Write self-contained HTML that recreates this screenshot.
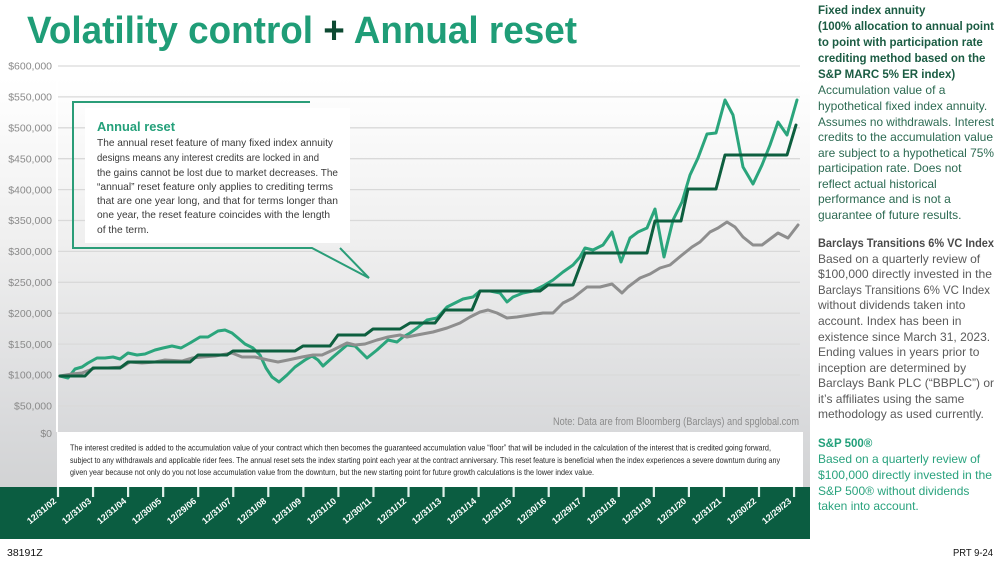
<!DOCTYPE html>
<html>
<head>
<meta charset="utf-8">
<style>
  html,body{margin:0;padding:0;background:#fff;}
  svg{display:block;}
  text{font-family:"Liberation Sans",sans-serif;}
</style>
</head>
<body>
<svg width="1000" height="563" viewBox="0 0 1000 563" xmlns="http://www.w3.org/2000/svg">
  <defs>
    <linearGradient id="bg" x1="0" y1="0" x2="0" y2="487" gradientUnits="userSpaceOnUse">
      <stop offset="0" stop-color="#ffffff"/>
      <stop offset="0.16" stop-color="#ffffff"/>
      <stop offset="0.5" stop-color="#efefef"/>
      <stop offset="0.88" stop-color="#d8d9db"/>
      <stop offset="1" stop-color="#d2d3d4"/>
    </linearGradient>
  </defs>

  <!-- backgrounds -->
  <rect x="0" y="0" width="1000" height="563" fill="#ffffff"/>
  <rect x="0" y="0" width="810" height="487" fill="url(#bg)"/>

  <!-- title -->
  <text x="27" y="43" font-size="38" font-weight="bold" fill="#1f9d77" textLength="550" lengthAdjust="spacingAndGlyphs">Volatility control <tspan fill="#0d4a32">+</tspan> Annual reset</text>

  <!-- gridlines -->
  <g stroke="#d9d9d9" stroke-width="1.3">
    <line x1="58" y1="66" x2="800" y2="66"/>
    <line x1="58" y1="96.9" x2="800" y2="96.9"/>
    <line x1="58" y1="127.8" x2="800" y2="127.8"/>
    <line x1="58" y1="158.7" x2="800" y2="158.7"/>
    <line x1="58" y1="189.6" x2="800" y2="189.6"/>
    <line x1="58" y1="220.5" x2="800" y2="220.5"/>
    <line x1="58" y1="251.4" x2="800" y2="251.4"/>
    <line x1="58" y1="282.3" x2="800" y2="282.3"/>
    <line x1="58" y1="313.2" x2="800" y2="313.2"/>
    <line x1="58" y1="344.1" x2="800" y2="344.1"/>
    <line x1="58" y1="375" x2="800" y2="375"/>
    <line x1="58" y1="405.9" x2="800" y2="405.9"/>
  </g>
  <line x1="57" y1="60" x2="57" y2="432" stroke="#ffffff" stroke-width="2"/>

  <!-- y labels -->
  <g font-size="10.5" fill="#8a8a8a" text-anchor="end">
    <text x="52" y="69.7">$600,000</text>
    <text x="52" y="100.6">$550,000</text>
    <text x="52" y="131.5">$500,000</text>
    <text x="52" y="162.4">$450,000</text>
    <text x="52" y="193.3">$400,000</text>
    <text x="52" y="224.2">$350,000</text>
    <text x="52" y="255.1">$300,000</text>
    <text x="52" y="286">$250,000</text>
    <text x="52" y="316.9">$200,000</text>
    <text x="52" y="347.8">$150,000</text>
    <text x="52" y="378.7">$100,000</text>
    <text x="52" y="409.6">$50,000</text>
    <text x="52" y="437">$0</text>
  </g>

  <!-- callout -->
  <rect x="85" y="108" width="265" height="135" fill="#ffffff"/>
  <g stroke="#2a9d78" stroke-width="2" fill="none" stroke-linejoin="miter">
    <polyline points="310,102 73,102 73,248 312,248 369,278 340,248"/>
  </g>
  <text x="97" y="131" font-size="13" font-weight="bold" fill="#24a07a" textLength="78" lengthAdjust="spacingAndGlyphs">Annual reset</text>
  <g font-size="10.5" fill="#3a3a3a">
    <text x="97" y="146" textLength="236" lengthAdjust="spacingAndGlyphs">The annual reset feature of many fixed index annuity</text>
    <text x="97" y="161" textLength="222" lengthAdjust="spacingAndGlyphs">designs means any interest credits are locked in and</text>
    <text x="97" y="176" textLength="241" lengthAdjust="spacingAndGlyphs">the gains cannot be lost due to market decreases. The</text>
    <text x="97" y="190" textLength="236" lengthAdjust="spacingAndGlyphs">“annual” reset feature only applies to crediting terms</text>
    <text x="97" y="204" textLength="241" lengthAdjust="spacingAndGlyphs">that are one year long, and that for terms longer than</text>
    <text x="97" y="218" textLength="233" lengthAdjust="spacingAndGlyphs">one year, the reset feature coincides with the length</text>
    <text x="97" y="233" textLength="52" lengthAdjust="spacingAndGlyphs">of the term.</text>
  </g>

  <!-- series -->
  <g fill="none" stroke-width="3" stroke-linejoin="round" stroke-linecap="round">
    <polyline stroke="#2ba57c" points="60,376 68,378 75,369 82,367 88,363 97,358 105,358 113,357 120,359 128,353 137,355 145,354 155,350 163,348 172,346 181,348 190,343 200,337 208,337 218,331 225,330 232,333 238,338 245,344 253,348 260,355 266,368 272,377 279,382 287,375 295,367 305,360 312,356 318,360 323,366 333,357 347,345 355,346 367,358 377,350 388,340 397,342 403,337 410,333 417,328 427,320 437,318 447,307 457,302 463,299 473,297 480,291 490,291 500,293 507,302 513,297 523,293 533,291 543,286 553,280 563,272 573,265 580,257 585,248 593,250 603,245 612,232 621,262 630,238 638,232 647,228 655,209 664,257 673,220 682,202 690,175 698,158 707,134 716,133 725,100 733,115 743,167 753,184 762,165 770,145 778,122 787,135 797,100"/>
    <polyline stroke="#8e8e8e" points="60,376 72,374 82,373 95,368 108,368 122,367 130,362 142,363 155,362 165,360 182,361 192,358 202,357 215,356 232,353 242,357 255,357 268,360 278,362 288,360 302,357 313,355 322,355 333,350 347,343 355,345 365,344 377,340 388,337 400,335 407,337 417,335 433,332 447,328 460,323 470,317 480,312 488,310 497,313 507,318 517,317 530,315 543,313 553,313 563,303 573,298 587,287 600,287 612,284 622,293 628,287 640,278 650,274 660,268 670,265 682,255 692,247 700,242 710,232 718,228 727,222 735,227 743,237 753,245 762,245 770,239 778,233 788,238 798,225"/>
    <polyline stroke="#0d5f3f" points="60,376 85,376 93,368 120,368 128,362 190,362 198,355 227,355 233,351 295,351 303,346 330,346 338,335 365,335 373,329 400,329 410,323 435,323 445,310 472,310 480,291 540,291 548,285 573,285 585,253 647,253 655,221 681,221 688,189 716,189 725,155 787,155 796,125"/>
  </g>

  <!-- note -->
  <text x="553" y="425" font-size="11" fill="#8c8c8c" textLength="246" lengthAdjust="spacingAndGlyphs">Note: Data are from Bloomberg (Barclays) and spglobal.com</text>

  <!-- bottom white text box -->
  <rect x="57" y="432" width="746" height="55" fill="#ffffff"/>
  <g font-size="8.5" fill="#2a2a2a">
    <text x="70" y="450.5" textLength="701" lengthAdjust="spacingAndGlyphs">The interest credited is added to the accumulation value of your contract which then becomes the guaranteed accumulation value “floor” that will be included in the calculation of the interest that is credited going forward,</text>
    <text x="70" y="463" textLength="710" lengthAdjust="spacingAndGlyphs">subject to any withdrawals and applicable rider fees. The annual reset sets the index starting point each year at the contract anniversary. This reset feature is beneficial when the index experiences a severe downturn during any</text>
    <text x="70" y="475" textLength="524" lengthAdjust="spacingAndGlyphs">given year because not only do you not lose accumulation value from the downturn, but the new starting point for future growth calculations is the lower index value.</text>
  </g>

  <!-- green band -->
  <rect x="0" y="487" width="810" height="52" fill="#0b5d41"/>
  <g stroke="#e3f3ec" stroke-width="2.2">
    <line x1="58" y1="487" x2="58" y2="497"/>
    <line x1="93.05" y1="487" x2="93.05" y2="497"/>
    <line x1="128.1" y1="487" x2="128.1" y2="497"/>
    <line x1="163.15" y1="487" x2="163.15" y2="497"/>
    <line x1="198.2" y1="487" x2="198.2" y2="497"/>
    <line x1="233.25" y1="487" x2="233.25" y2="497"/>
    <line x1="268.3" y1="487" x2="268.3" y2="497"/>
    <line x1="303.35" y1="487" x2="303.35" y2="497"/>
    <line x1="338.4" y1="487" x2="338.4" y2="497"/>
    <line x1="373.45" y1="487" x2="373.45" y2="497"/>
    <line x1="408.5" y1="487" x2="408.5" y2="497"/>
    <line x1="443.55" y1="487" x2="443.55" y2="497"/>
    <line x1="478.6" y1="487" x2="478.6" y2="497"/>
    <line x1="513.65" y1="487" x2="513.65" y2="497"/>
    <line x1="548.7" y1="487" x2="548.7" y2="497"/>
    <line x1="583.75" y1="487" x2="583.75" y2="497"/>
    <line x1="618.8" y1="487" x2="618.8" y2="497"/>
    <line x1="653.85" y1="487" x2="653.85" y2="497"/>
    <line x1="688.9" y1="487" x2="688.9" y2="497"/>
    <line x1="723.95" y1="487" x2="723.95" y2="497"/>
    <line x1="759" y1="487" x2="759" y2="497"/>
    <line x1="794.05" y1="487" x2="794.05" y2="497"/>
  </g>
  <g font-size="9" font-weight="bold" fill="#ffffff" text-anchor="end">
    <text transform="translate(57,502) rotate(-40)">12/31/02</text>
    <text transform="translate(92,502) rotate(-40)">12/31/03</text>
    <text transform="translate(127,502) rotate(-40)">12/31/04</text>
    <text transform="translate(162,502) rotate(-40)">12/30/05</text>
    <text transform="translate(197,502) rotate(-40)">12/29/06</text>
    <text transform="translate(232,502) rotate(-40)">12/31/07</text>
    <text transform="translate(267,502) rotate(-40)">12/31/08</text>
    <text transform="translate(302,502) rotate(-40)">12/31/09</text>
    <text transform="translate(337,502) rotate(-40)">12/31/10</text>
    <text transform="translate(372,502) rotate(-40)">12/30/11</text>
    <text transform="translate(407,502) rotate(-40)">12/31/12</text>
    <text transform="translate(442,502) rotate(-40)">12/31/13</text>
    <text transform="translate(477,502) rotate(-40)">12/31/14</text>
    <text transform="translate(512,502) rotate(-40)">12/31/15</text>
    <text transform="translate(547,502) rotate(-40)">12/30/16</text>
    <text transform="translate(582,502) rotate(-40)">12/29/17</text>
    <text transform="translate(617,502) rotate(-40)">12/31/18</text>
    <text transform="translate(652,502) rotate(-40)">12/31/19</text>
    <text transform="translate(687,502) rotate(-40)">12/31/20</text>
    <text transform="translate(722,502) rotate(-40)">12/31/21</text>
    <text transform="translate(757,502) rotate(-40)">12/30/22</text>
    <text transform="translate(792,502) rotate(-40)">12/29/23</text>
  </g>

  <!-- footer -->
  <text x="7" y="556" font-size="10.5" fill="#111">38191Z</text>
  <text x="993" y="556" font-size="10.5" fill="#111" text-anchor="end" textLength="40" lengthAdjust="spacingAndGlyphs">PRT 9-24</text>

  <!-- right panel -->
  <g font-size="11.5" font-weight="bold" fill="#1b5c43">
    <text x="818" y="14">Fixed index annuity</text>
    <text x="818" y="30" textLength="176" lengthAdjust="spacingAndGlyphs">(100% allocation to annual point</text>
    <text x="818" y="46">to point with participation rate</text>
    <text x="818" y="62">crediting method based on the</text>
    <text x="818" y="78">S&amp;P MARC 5% ER index)</text>
  </g>
  <g font-size="12" fill="#2c6a52">
    <text x="818" y="94">Accumulation value of a</text>
    <text x="818" y="110">hypothetical fixed index annuity.</text>
    <text x="818" y="126" textLength="176" lengthAdjust="spacingAndGlyphs">Assumes no withdrawals. Interest</text>
    <text x="818" y="141" textLength="175" lengthAdjust="spacingAndGlyphs">credits to the accumulation value</text>
    <text x="818" y="157" textLength="176" lengthAdjust="spacingAndGlyphs">are subject to a hypothetical 75%</text>
    <text x="818" y="172">participation rate. Does not</text>
    <text x="818" y="188">reflect actual historical</text>
    <text x="818" y="203">performance and is not a</text>
    <text x="818" y="219">guarantee of future results.</text>
  </g>

  <text x="818" y="247" font-size="11.5" font-weight="bold" fill="#4a4a4a" textLength="176" lengthAdjust="spacingAndGlyphs">Barclays Transitions 6% VC Index</text>
  <g font-size="12" fill="#5a5a5a">
    <text x="818" y="263">Based on a quarterly review of</text>
    <text x="818" y="278" textLength="174" lengthAdjust="spacingAndGlyphs">$100,000 directly invested in the</text>
    <text x="818" y="294" textLength="172" lengthAdjust="spacingAndGlyphs">Barclays Transitions 6% VC Index</text>
    <text x="818" y="309">without dividends taken into</text>
    <text x="818" y="325">account. Index has been in</text>
    <text x="818" y="341">existence since March 31, 2023.</text>
    <text x="818" y="356">Ending values in years prior to</text>
    <text x="818" y="372">inception are determined by</text>
    <text x="818" y="387">Barclays Bank PLC (“BBPLC”) or</text>
    <text x="818" y="403">it’s affiliates using the same</text>
    <text x="818" y="418">methodology as used currently.</text>
  </g>

  <text x="818" y="447" font-size="11.5" font-weight="bold" fill="#22a07a">S&amp;P 500®</text>
  <g font-size="12" fill="#2aa37e">
    <text x="818" y="463">Based on a quarterly review of</text>
    <text x="818" y="479" textLength="174" lengthAdjust="spacingAndGlyphs">$100,000 directly invested in the</text>
    <text x="818" y="495">S&amp;P 500® without dividends</text>
    <text x="818" y="510">taken into account.</text>
  </g>
</svg>
</body>
</html>
